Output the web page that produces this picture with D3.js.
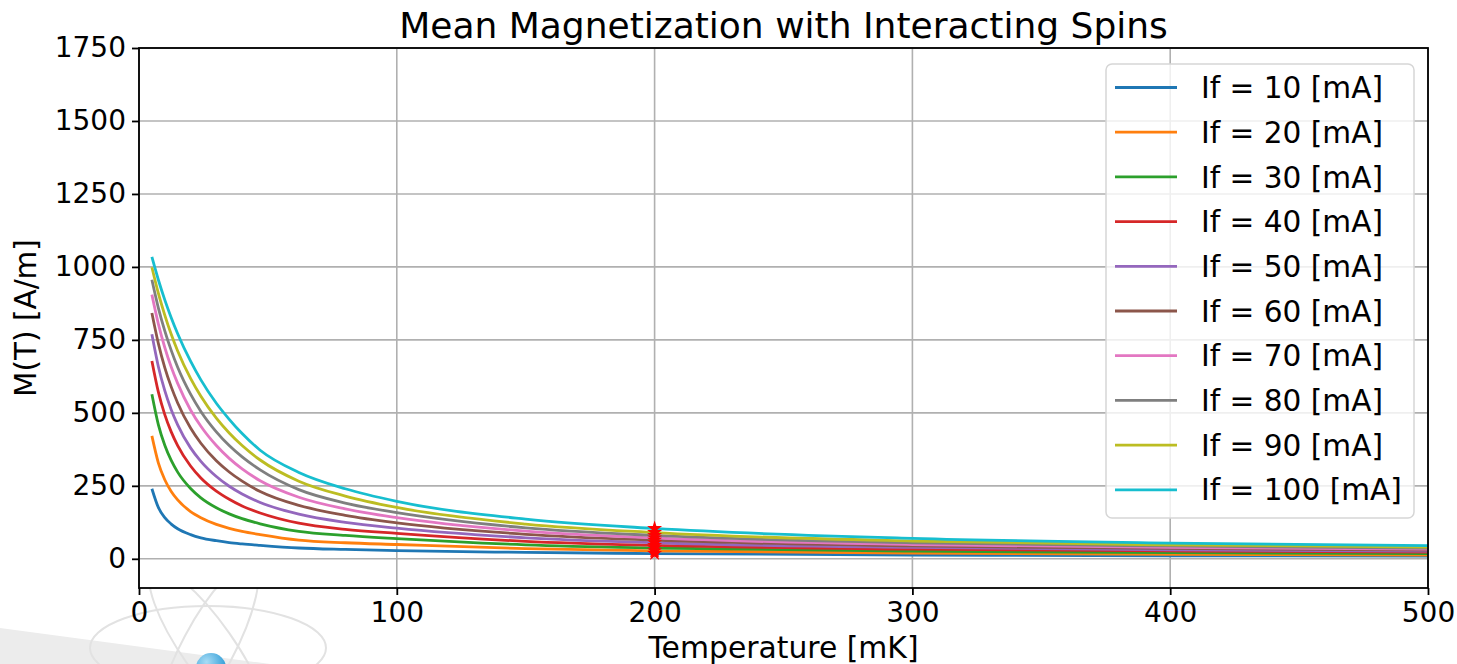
<!DOCTYPE html>
<html>
<head>
<meta charset="utf-8">
<script src="https://cdn.jsdelivr.net/npm/d3@7"></script>
<style>
  body { margin: 0; background: #fff; }
  svg { display: block; font-family: "DejaVu Sans", sans-serif; }
</style>
</head>
<body>
<div id="plot"></div>
<script>
const temps = [5, 7.5, 10, 12.5, 15, 20, 24, 30, 35, 40, 47, 62, 80, 100, 150, 200, 300, 400, 500];

// Field currents [mA]
const currents = [10, 20, 30, 40, 50, 60, 70, 80, 90, 100];

// M(T) [A/m] for each current
const m10  = [240, 176, 141, 119, 103, 83, 72, 62, 55.5, 51, 46, 37, 32, 28, 22, 18, 13, 10.5, 9];
const m20  = [421, 329, 271, 231, 202, 162, 141, 118, 104.5, 94, 83, 64, 55, 49, 35, 27.5, 19.5, 15.5, 13];
const m30  = [564, 460, 389, 337, 297, 241, 209, 175, 154, 137.5, 120, 94, 80, 69, 48, 37, 26, 21, 18];
const m40  = [678, 572, 494, 435, 388, 318, 277, 232, 204, 181, 157, 122, 101, 87, 60, 46, 33, 27, 23];
const m50  = [769, 659, 576, 511, 459, 380, 334, 282, 248.5, 222, 193, 153, 125, 105, 72, 55, 39, 31, 26.5];
const m60  = [842, 738, 655, 589, 534, 448, 396, 336, 297.5, 266, 230.5, 183, 149, 123, 84, 64, 44, 35.5, 30];
const m70  = [905, 805, 724, 657, 601, 510, 454, 388, 344, 308, 267.5, 211, 171, 141, 95, 71.5, 49, 39, 33];
const m80  = [956, 860, 781, 714, 656, 564, 505, 435, 388, 349, 304.5, 237, 191, 158, 106, 80, 55, 44, 36.5];
const m90  = [999, 910, 835, 769, 712, 618, 557, 482, 431, 388, 338.5, 266, 215, 176, 119, 90, 61, 48, 40.5];
const m100 = [1034, 956, 887, 826, 771, 677, 613, 533, 478, 429, 372, 296, 240, 197, 136, 104, 70, 54, 45];

const seriesValues = [m10, m20, m30, m40, m50, m60, m70, m80, m90, m100];

// marked temperature
const markT = 200;

const xTicks = [0, 100, 200, 300, 400, 500];
const yTicks = [0, 250, 500, 750, 1000, 1250, 1500, 1750];

const colors = ["#1f77b4", "#ff7f0e", "#2ca02c", "#d62728", "#9467bd",
                "#8c564b", "#e377c2", "#7f7f7f", "#bcbd22", "#17becf"];

// layout
const W = 1457, H = 664;
const margin = { top: 48, right: 29, bottom: 76, left: 139 };
const width = W - margin.left - margin.right;
const height = H - margin.top - margin.bottom;

const svg = d3.select("#plot")
  .append("svg")
  .attr("width", W)
  .attr("height", H);

// faint slide watermark in the lower left corner
const wm = svg.append("g");
wm.append("path")
  .attr("d", "M0,628 L270,664 L0,664 Z")
  .attr("fill", "#ececec");
wm.append("ellipse").attr("cx", 208).attr("cy", 648).attr("rx", 118).attr("ry", 42)
  .attr("fill", "none").attr("stroke", "#e2e2e2").attr("stroke-width", 2);
wm.append("ellipse").attr("cx", 208).attr("cy", 648).attr("rx", 26).attr("ry", 95)
  .attr("transform", "rotate(-35,208,648)")
  .attr("fill", "none").attr("stroke", "#e2e2e2").attr("stroke-width", 2);
wm.append("ellipse").attr("cx", 208).attr("cy", 648).attr("rx", 26).attr("ry", 95)
  .attr("transform", "rotate(28,208,648)")
  .attr("fill", "none").attr("stroke", "#e2e2e2").attr("stroke-width", 2);
const grad = svg.append("defs").append("radialGradient").attr("id", "ball")
  .attr("cx", "35%").attr("cy", "30%").attr("r", "70%");
grad.append("stop").attr("offset", "0%").attr("stop-color", "#a8dcf5");
grad.append("stop").attr("offset", "100%").attr("stop-color", "#2a9ad6");
wm.append("circle").attr("cx", 211).attr("cy", 668).attr("r", 15).attr("fill", "url(#ball)");

const g = svg.append("g")
  .attr("transform", `translate(${margin.left}, ${margin.top})`);

g.append("rect").attr("width", width).attr("height", height).attr("fill", "#fff");

const x = d3.scaleLinear().domain([0, 500]).range([0, width]);
const y = d3.scaleLinear().domain([-100, 1750]).range([height, 0]);

// grid
g.append("g").selectAll("line").data(xTicks).enter().append("line")
  .attr("x1", d => x(d)).attr("x2", d => x(d))
  .attr("y1", 0).attr("y2", height)
  .attr("stroke", "#b0b0b0").attr("stroke-width", 1.6);
g.append("g").selectAll("line").data(yTicks).enter().append("line")
  .attr("x1", 0).attr("x2", width)
  .attr("y1", d => y(d)).attr("y2", d => y(d))
  .attr("stroke", "#b0b0b0").attr("stroke-width", 1.6);

// curves
const line = d3.line()
  .x(d => x(d[0]))
  .y(d => y(d[1]))
  .curve(d3.curveMonotoneX);

const plotArea = g.append("g");
seriesValues.forEach((vals, i) => {
  plotArea.append("path")
    .datum(temps.map((t, k) => [t, vals[k]]))
    .attr("fill", "none")
    .attr("stroke", colors[i])
    .attr("stroke-width", 2.8)
    .attr("d", line);
});

// red star markers at T = 200 mK
const mi = temps.indexOf(markT);
plotArea.selectAll(".mark")
  .data(seriesValues.map(v => v[mi]))
  .enter().append("path")
  .attr("class", "mark")
  .attr("transform", d => `translate(${x(markT)}, ${y(d)})`)
  .attr("d", d3.symbol().type(d3.symbolStar).size(70))
  .attr("fill", "#ff0000");

// axes
const xAxis = g.append("g")
  .attr("transform", `translate(0, ${height})`)
  .call(d3.axisBottom(x).tickValues(xTicks).tickSize(7).tickPadding(7).tickFormat(d3.format("d")));
const yAxis = g.append("g")
  .call(d3.axisLeft(y).tickValues(yTicks).tickSize(7).tickPadding(6).tickFormat(d3.format("d")));

[xAxis, yAxis].forEach(a => {
  a.select(".domain").remove();
  a.selectAll("line").attr("stroke", "#000").attr("stroke-width", 1.8);
  a.selectAll("text").attr("font-size", 28).attr("fill", "#000")
    .attr("font-family", "DejaVu Sans");
});

// spines
g.append("rect").attr("width", width).attr("height", height)
  .attr("fill", "none").attr("stroke", "#000").attr("stroke-width", 1.8);

// title and labels
svg.append("text")
  .attr("x", margin.left + width / 2).attr("y", 38)
  .attr("text-anchor", "middle").attr("font-size", 36)
  .text("Mean Magnetization with Interacting Spins");

svg.append("text")
  .attr("x", margin.left + width / 2).attr("y", 658)
  .attr("text-anchor", "middle").attr("font-size", 29.8)
  .text("Temperature [mK]");

svg.append("text")
  .attr("transform", `translate(36, ${margin.top + height / 2}) rotate(-90)`)
  .attr("text-anchor", "middle").attr("font-size", 29.5)
  .text("M(T) [A/m]");

// legend
const lg = svg.append("g").attr("transform", "translate(1106, 64)");
lg.append("rect")
  .attr("width", 308).attr("height", 454).attr("rx", 6)
  .attr("fill", "#fff").attr("fill-opacity", 0.8)
  .attr("stroke", "#d6d6d6").attr("stroke-width", 1.5);
currents.forEach((c, i) => {
  const yy = 23.5 + i * 44.7;
  lg.append("line")
    .attr("x1", 9).attr("x2", 71).attr("y1", yy).attr("y2", yy)
    .attr("stroke", colors[i]).attr("stroke-width", 2.8);
  lg.append("text")
    .attr("x", 95).attr("y", yy).attr("dy", "0.36em")
    .attr("font-size", 29.6)
    .text(`If = ${c} [mA]`);
});
</script>
</body>
</html>
